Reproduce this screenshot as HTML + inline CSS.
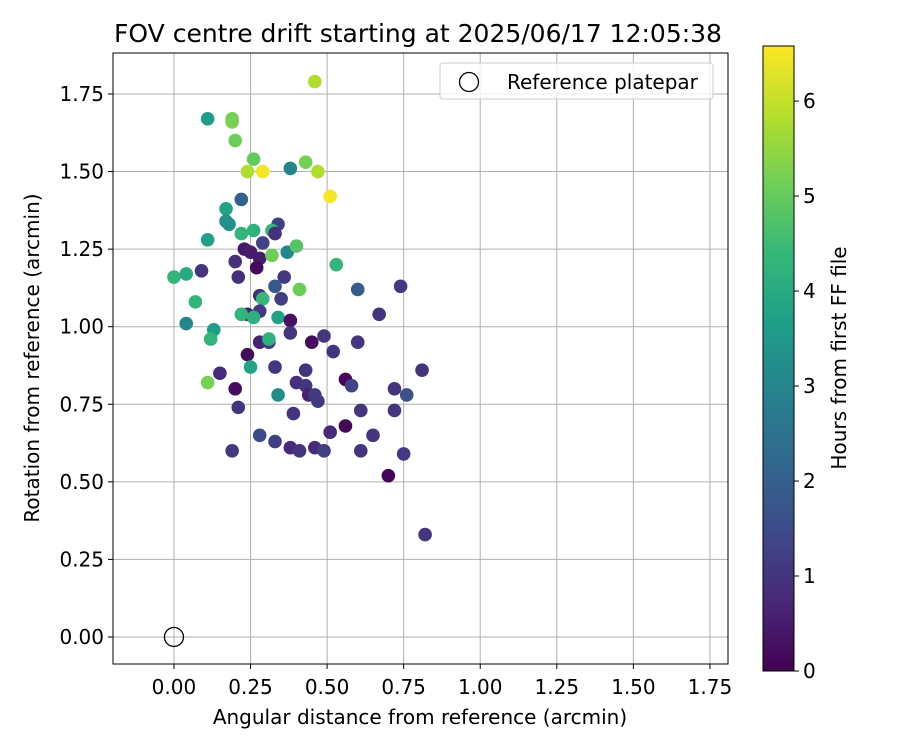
<!DOCTYPE html>
<html><head><meta charset="utf-8"><style>body{margin:0;background:#fff}svg{font-family:"DejaVu Sans","Liberation Sans",sans-serif}</style></head>
<body>
<svg id="c" width="900" height="750"></svg>
<script>
const xs=[0.46,0.11,0.19,0.19,0.20,0.26,0.24,0.29,0.38,0.43,0.47,0.51,0.22,0.17,0.17,0.18,0.34,0.11,0.22,0.26,0.32,0.33,0.29,0.23,0.25,0.28,0.37,0.40,0.32,0.27,0.20,0.21,0.09,0.00,0.04,0.36,0.53,0.33,0.41,0.60,0.74,0.28,0.35,0.29,0.07,0.28,0.24,0.22,0.26,0.34,0.67,0.04,0.38,0.13,0.38,0.49,0.12,0.28,0.31,0.31,0.45,0.52,0.60,0.24,0.25,0.33,0.43,0.15,0.11,0.40,0.56,0.58,0.81,0.20,0.43,0.34,0.44,0.46,0.47,0.72,0.76,0.21,0.39,0.61,0.72,0.56,0.51,0.65,0.28,0.33,0.19,0.38,0.41,0.46,0.49,0.61,0.75,0.70,0.82];
const ys=[1.79,1.67,1.66,1.67,1.60,1.54,1.50,1.50,1.51,1.53,1.50,1.42,1.41,1.38,1.34,1.33,1.33,1.28,1.30,1.31,1.31,1.30,1.27,1.25,1.24,1.22,1.24,1.26,1.23,1.19,1.21,1.16,1.18,1.16,1.17,1.16,1.20,1.13,1.12,1.12,1.13,1.10,1.09,1.09,1.08,1.05,1.04,1.04,1.03,1.03,1.04,1.01,1.02,0.99,0.98,0.97,0.96,0.95,0.95,0.96,0.95,0.92,0.95,0.91,0.87,0.87,0.86,0.85,0.82,0.82,0.83,0.81,0.86,0.80,0.81,0.78,0.78,0.78,0.76,0.80,0.78,0.74,0.72,0.73,0.73,0.68,0.66,0.65,0.65,0.63,0.60,0.61,0.60,0.61,0.60,0.60,0.59,0.52,0.33];
const hours=[5.8,3.6,5.3,5.2,5.1,5.0,5.8,6.5,3.0,5.2,5.8,6.5,2.0,3.8,3.3,3.3,1.3,3.7,4.3,4.2,4.3,0.9,1.3,0.4,0.5,0.5,3.0,4.8,5.1,0.2,0.9,0.9,1.0,4.3,4.0,1.1,4.3,1.8,5.1,1.9,1.1,0.9,1.2,4.4,4.3,1.1,0.6,4.3,4.2,3.8,1.0,3.0,0.3,3.6,1.0,1.0,4.3,0.6,1.1,4.2,0.2,1.0,1.0,0.2,3.8,1.0,1.0,0.8,5.2,0.9,0.1,1.3,1.0,0.2,1.0,3.2,0.6,1.1,1.1,1.0,1.6,1.0,1.0,1.0,1.0,0.1,0.8,1.0,1.5,1.2,1.1,0.8,1.0,0.8,1.2,1.0,1.1,0.1,1.0];
const xTicks=[0,0.25,0.5,0.75,1,1.25,1.5,1.75];
const yTicks=[0,0.25,0.5,0.75,1,1.25,1.5,1.75];
const cTicks=[0,1,2,3,4,5,6];
const L=113,R=728,T=53,B=664,X0=-0.199,X1=1.809,Y0=-0.087,Y1=1.882,HMAX=6.58;
const sx=v=>L+(v-X0)/(X1-X0)*(R-L), sy=v=>B-(v-Y0)/(Y1-Y0)*(B-T);
const vir=[[68,1,84],[72,40,120],[62,74,137],[49,104,142],[38,130,142],[31,158,137],[53,183,121],[110,206,88],[181,222,43],[253,231,37]];
function cmap(t){t=Math.max(0,Math.min(1,t))*9;const i=Math.min(8,Math.floor(t)),f=t-i,a=vir[i],b=vir[i+1];return `rgb(${a.map((v,k)=>Math.round(v+(b[k]-v)*f)).join(',')})`;}
const svg=document.getElementById('c');const NS='http://www.w3.org/2000/svg';
function mk(tag,at,name,p){const e=document.createElementNS(NS,tag);for(const k in at)e.setAttribute(k,at[k]);


(p||svg).appendChild(e);return e;}
function txt(x,y,s,name,at){const e=mk('text',Object.assign({x:x,y:y,'font-size':20,fill:'#000'},at||{}),name);e.textContent=s;return e;}
xTicks.forEach(v=>{mk('line',{x1:sx(v),x2:sx(v),y1:T,y2:B,stroke:'#b0b0b0','stroke-width':1},'x-gridline');mk('line',{x1:sx(v),x2:sx(v),y1:B,y2:B+5,stroke:'#000'},'x-tick');txt(sx(v),B+30,v.toFixed(2),'x-tick-label',{'text-anchor':'middle'});});
yTicks.forEach(v=>{mk('line',{x1:L,x2:R,y1:sy(v),y2:sy(v),stroke:'#b0b0b0','stroke-width':1},'y-gridline');mk('line',{x1:L-5,x2:L,y1:sy(v),y2:sy(v),stroke:'#000'},'y-tick');txt(L-9,sy(v)+7,v.toFixed(2),'y-tick-label',{'text-anchor':'end'});});
xs.forEach((x,i)=>{mk('circle',{cx:sx(x),cy:sy(ys[i]),r:6.8,fill:cmap(hours[i]/HMAX)},'drift-point');});
mk('circle',{cx:sx(0),cy:sy(0),r:9.5,fill:'none',stroke:'#000','stroke-width':1.3},'reference-marker');
mk('rect',{x:L,y:T,width:R-L,height:B-T,fill:'none',stroke:'#000','stroke-width':1},'plot-frame');
mk('rect',{x:440,y:63,width:273,height:36,rx:3,fill:'#fff','fill-opacity':0.8,stroke:'#ccc'},'legend-box');
mk('circle',{cx:469,cy:82,r:9.5,fill:'none',stroke:'#000','stroke-width':1.3},'legend-marker');
txt(507,89,'Reference platepar','legend-label');
txt(418,42,'FOV centre drift starting at 2025/06/17 12:05:38','chart-title',{'text-anchor':'middle','font-size':25});
txt(420,724,'Angular distance from reference (arcmin)','x-axis-title',{'text-anchor':'middle'});
txt(0,0,'Rotation from reference (arcmin)','y-axis-title',{'text-anchor':'middle',transform:'translate(39,358) rotate(-90)'});
const CL=763,CR=794,CT=46,CB=671;
const defs=mk('defs',{},'defs');const g=mk('linearGradient',{id:'vg',x1:0,y1:1,x2:0,y2:0},'gradient',defs);
vir.forEach((c,i)=>mk('stop',{offset:i/9,'stop-color':`rgb(${c})`},'gradient-stop',g));
mk('rect',{x:CL,y:CT,width:CR-CL,height:CB-CT,fill:'url(#vg)',stroke:'#000','stroke-width':1},'colorbar');
const cy=v=>CB-v/HMAX*(CB-CT);
cTicks.forEach(v=>{mk('line',{x1:CR,x2:CR+5,y1:cy(v),y2:cy(v),stroke:'#000'},'colorbar-tick');txt(CR+9,cy(v)+7,String(v),'colorbar-tick-label');});
txt(0,0,'Hours from first FF file','colorbar-title',{'text-anchor':'middle',transform:'translate(846,358) rotate(-90)'});
</script>
</body></html>
